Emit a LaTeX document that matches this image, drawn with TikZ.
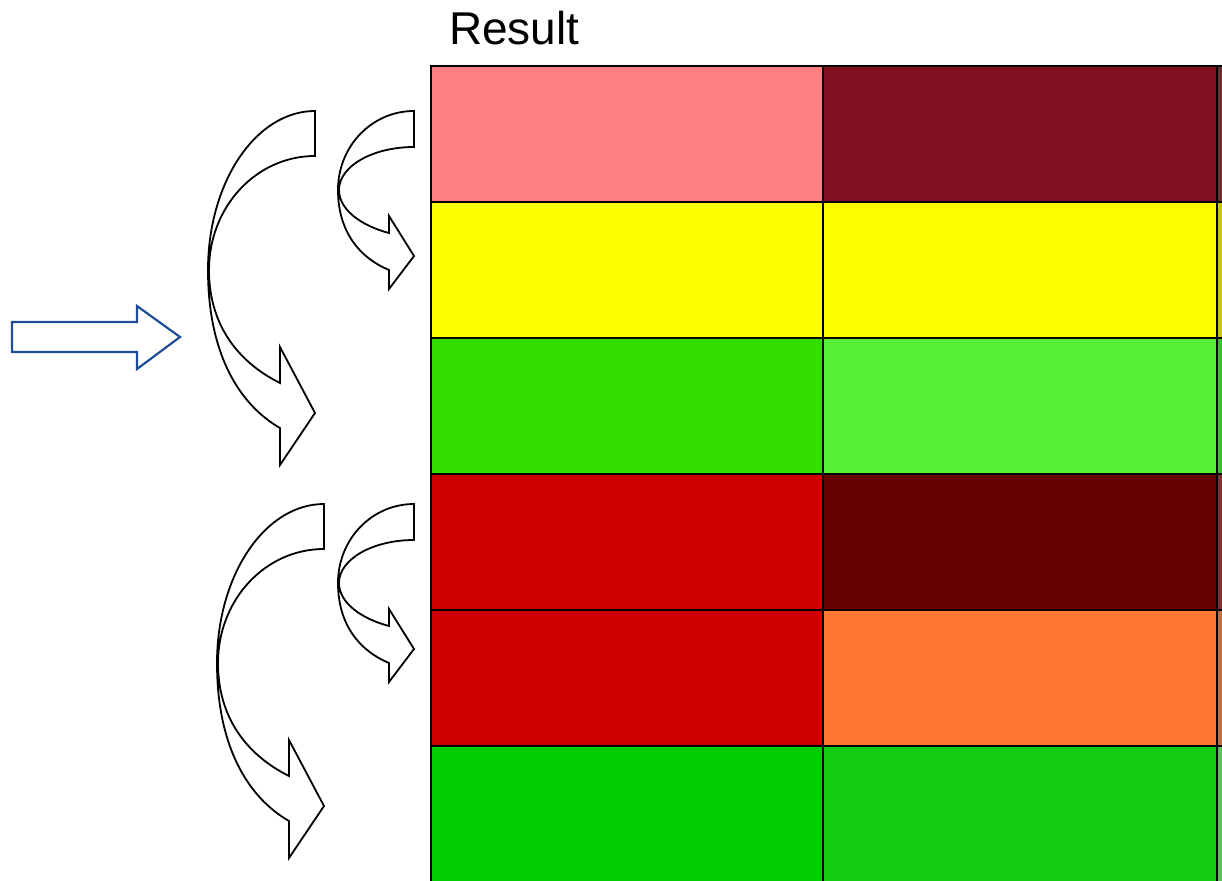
\documentclass[tikz,border=0pt]{standalone}
\usepackage{fontspec}
\setmainfont{Liberation Sans}
\definecolor{cPink}{HTML}{FF8080}
\definecolor{cMaroon}{HTML}{800F1F}
\definecolor{cYellow}{HTML}{FFFF00}
\definecolor{cGreenA}{HTML}{33DD00}
\definecolor{cGreenB}{HTML}{55F033}
\definecolor{cRed}{HTML}{CC0000}
\definecolor{cDark}{HTML}{660000}
\definecolor{cOrange}{HTML}{FF7733}
\definecolor{cGreenC}{HTML}{00CC00}
\definecolor{cGreenD}{HTML}{11CC11}
\definecolor{cBlue}{HTML}{1F4E99}
\definecolor{sA}{HTML}{6A3030}
\definecolor{sB}{HTML}{C8C800}
\definecolor{sC}{HTML}{40C030}
\definecolor{sD}{HTML}{803030}
\definecolor{sE}{HTML}{C07040}
\definecolor{sF}{HTML}{60C060}
\begin{document}
\begin{tikzpicture}[x=1pt,y=-1pt,
  cell/.style={draw=black,line width=2pt},
  curvearrow/.style={draw=black,fill=white,line width=1.8pt,line join=miter},
  blockarrow/.style={draw=cBlue,fill=white,line width=2.2pt,line join=miter}]
\useasboundingbox (0,0) rectangle (1222,880);
\begin{scope}
\clip (0,0) rectangle (1222,880);
% grid cells
\foreach \y/\ca/\cb/\cc [count=\i] in {66/cPink/cMaroon/sA,202/cYellow/cYellow/sB,338/cGreenA/cGreenB/sC,474/cRed/cDark/sD,610/cRed/cOrange/sE,746/cGreenC/cGreenD/sF}{
  \path[cell,fill=\ca] (431,\y) rectangle (823,\y+136);
  \path[cell,fill=\cb] (823,\y) rectangle (1217,\y+136);
  \path[cell,fill=\cc] (1217,\y) rectangle (1611,\y+136);
}
\end{scope}
% title
\node[anchor=base west,inner sep=0pt,font=\fontsize{46}{50}\selectfont] (title) at (449,45) {Result};
% blue block arrow
\path[blockarrow] (12,322) -- (137,322) -- (137,306) -- (180,337) -- (137,369) -- (137,352) -- (12,352) -- cycle;
% curved arrows: big
\foreach \dx/\dy in {0/0,9/393}{
\begin{scope}[shift={(\dx,\dy)}]
\path[curvearrow] (315,111) .. controls (256,111) and (208,182) .. (208,270)
  .. controls (208,355) and (240,405) .. (280,428)
  -- (280,465) -- (315,413) -- (280,347) -- (280,383)
  .. controls (238,362) and (209,325) .. (209,270)
  .. controls (209,207) and (256,156) .. (315,156) -- cycle;
\end{scope}
}
% curved arrows: small
\foreach \dy in {0,393}{
\begin{scope}[shift={(0,\dy)}]
\path[curvearrow] (414,111) .. controls (372,111) and (338,146) .. (338,190)
  .. controls (338,232) and (360,258) .. (389,270)
  -- (389,289) -- (414,256) -- (389,216) -- (389,233)
  .. controls (362,226) and (339,210) .. (339,190)
  .. controls (339,166) and (373,147) .. (414,147) -- cycle;
\end{scope}
}
\end{tikzpicture}
\end{document}
